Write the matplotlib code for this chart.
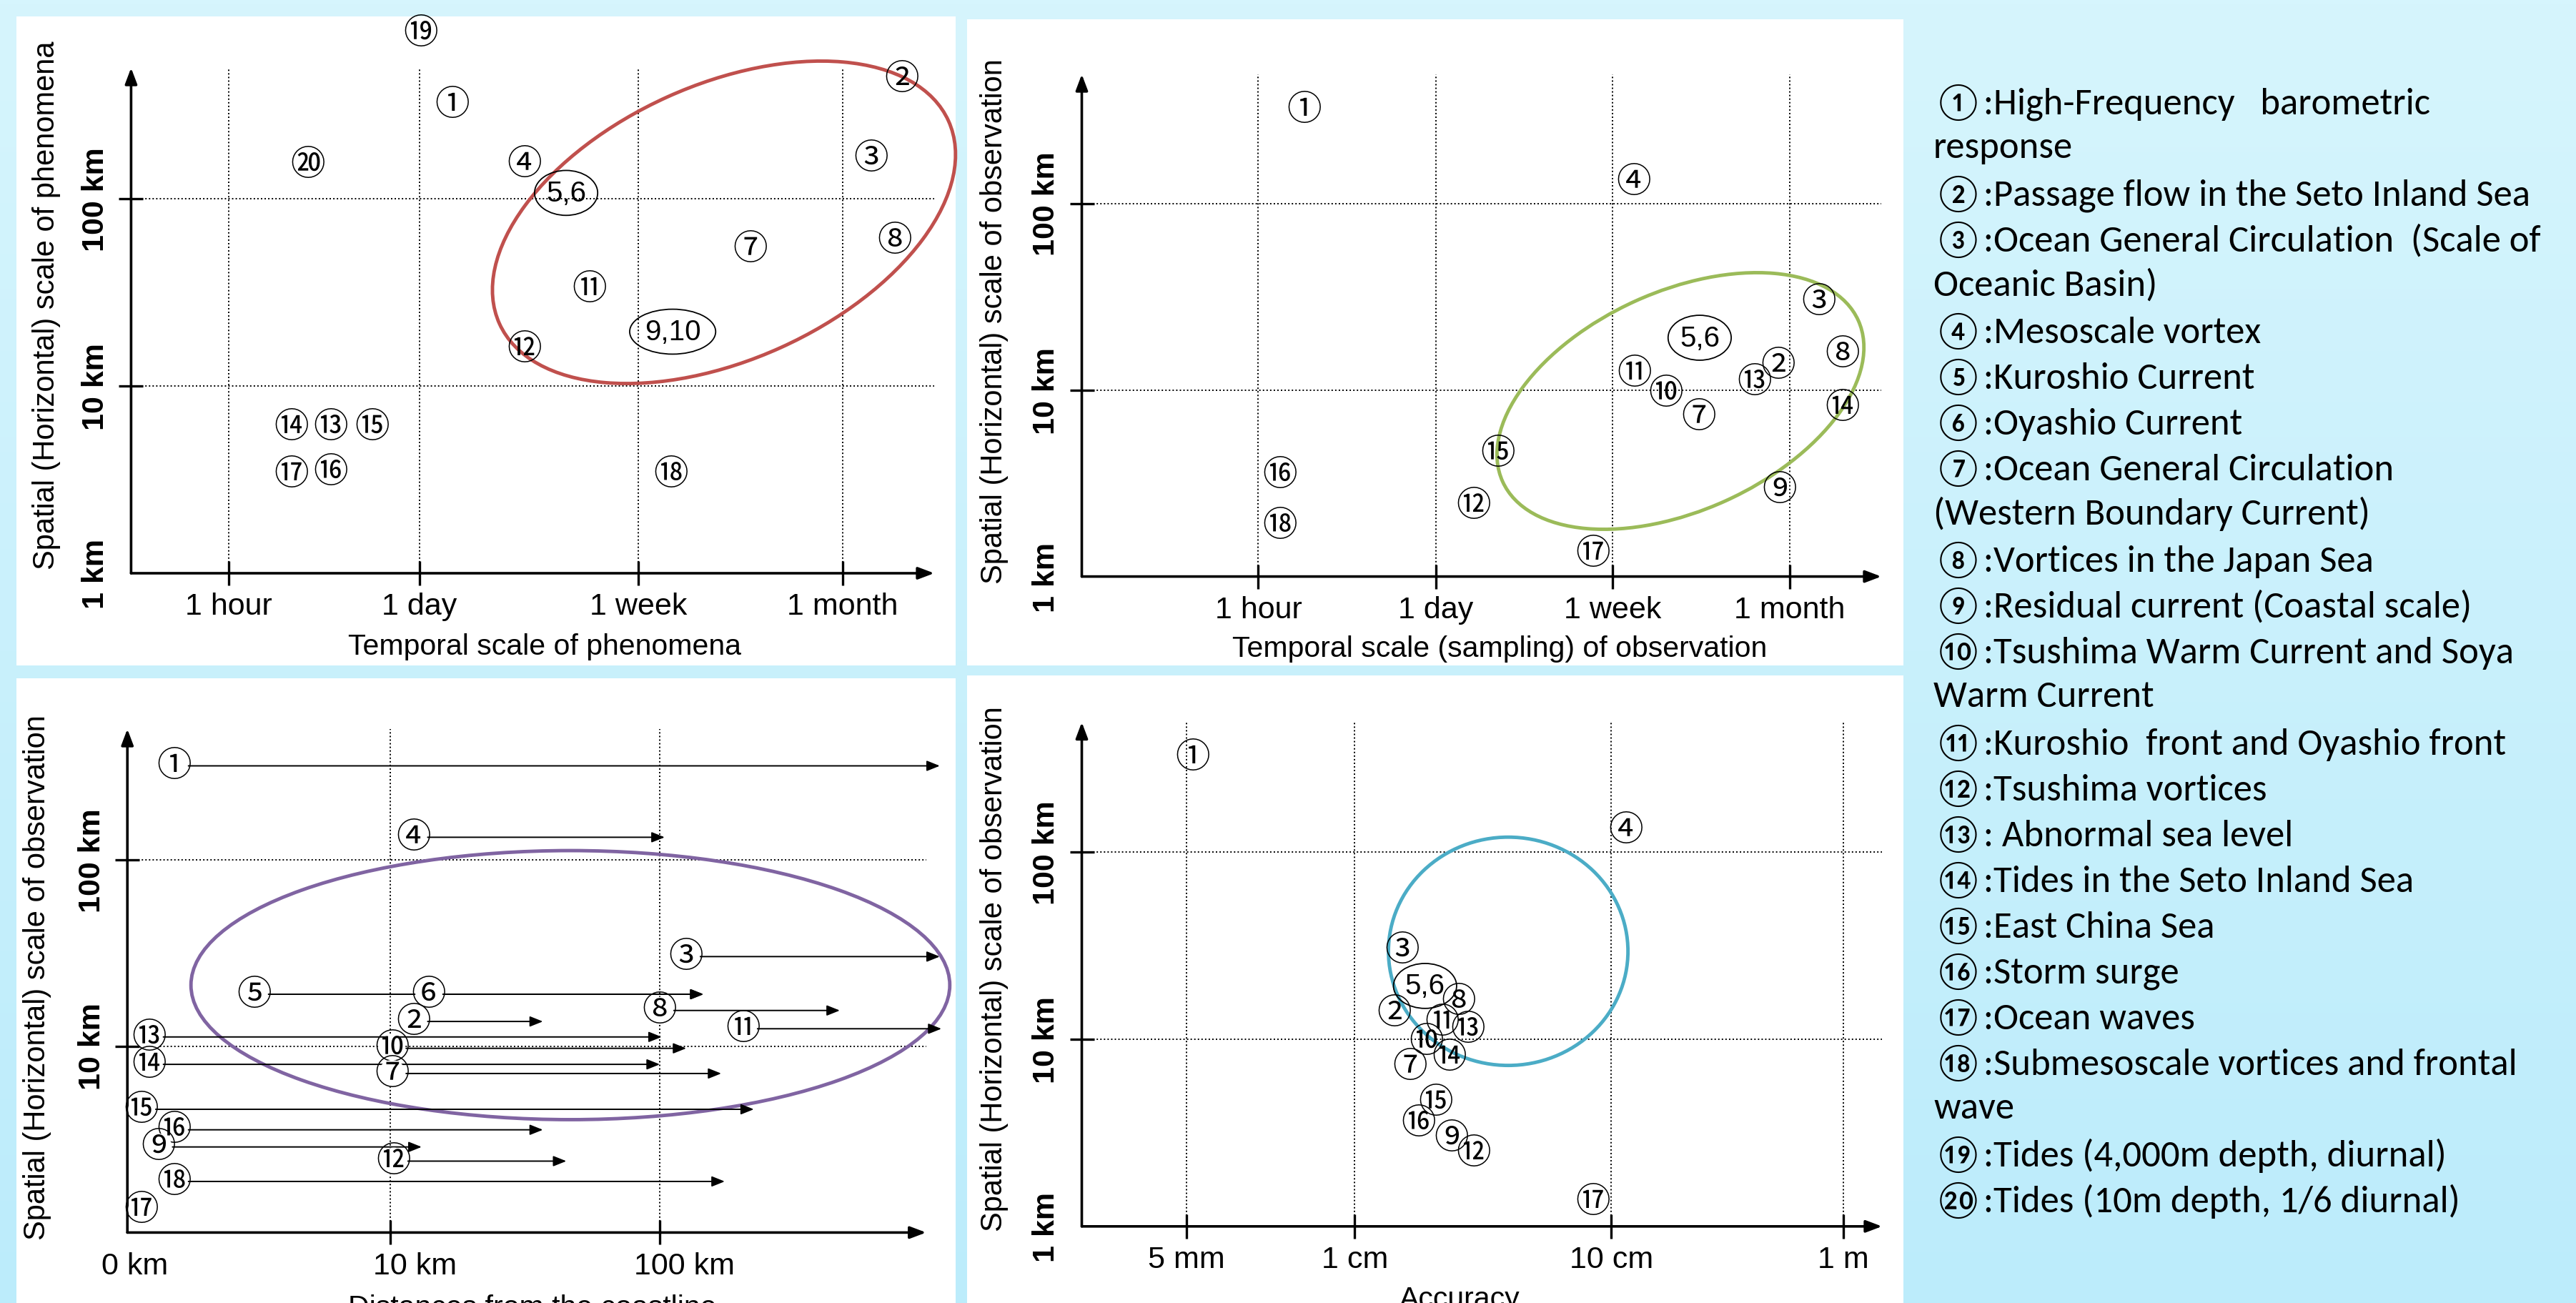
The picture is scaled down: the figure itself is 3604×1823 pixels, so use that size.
import numpy as np
import matplotlib.pyplot as plt
import matplotlib.transforms as mtransforms
from matplotlib import font_manager
from matplotlib.patches import Ellipse, Rectangle

W, H = 3605, 1824
plt.rcParams['font.family'] = ['Liberation Sans', 'DejaVu Sans']

installed = {f.name for f in font_manager.fontManager.ttflist}
CIRCLED = ['Noto Sans CJK JP', 'DejaVu Sans']
LEGEND_FONT = [n for n in ['Carlito', 'Lato'] if n in installed] + ['Noto Sans CJK JP', 'DejaVu Sans']
LEGEND_SIZE = 38 if 'Carlito' in installed else 36

# ---- data (x: position along the axis, y: log10 of spatial scale in km) ----
# top left: phenomena
tl_xticks = [0.52, 1.54, 2.71, 3.80]
tl_xticklabels = ['1 hour', '1 day', '1 week', '1 month']
tl_ids = ['19', '1', '20', '4', '5,6', '2', '3', '8', '7', '11', '9,10', '12',
          '14', '13', '15', '17', '16', '18']
tl_x = [1.548, 1.716, 0.945, 2.102, 2.323, 4.117, 3.952, 4.078, 3.306, 2.449, 2.892, 2.102,
        0.857, 1.067, 1.289, 0.857, 1.067, 2.882]
tl_y = [2.886, 2.504, 2.183, 2.187, 2.031, 2.639, 2.218, 1.777, 1.731, 1.519, 1.290, 1.198,
        0.782, 0.782, 0.782, 0.531, 0.542, 0.531]
tl_ell = (3.166, 1.874, 2.631, 1.469, 24.3)

# top right: observation sampling
tr_xticks = [0.946, 1.898, 2.845, 3.795]
tr_xticklabels = ['1 hour', '1 day', '1 week', '1 month']
tr_ids = ['1', '4', '3', '5,6', '8', '2', '11', '13', '10', '14', '7', '15', '16', '9',
          '12', '18', '17']
tr_x = [1.193, 2.960, 3.952, 3.312, 4.077, 3.734, 2.964, 3.607, 3.132, 4.077, 3.307, 2.232,
        1.063, 3.739, 2.101, 1.063, 2.741]
tr_y = [2.504, 2.117, 1.474, 1.280, 1.194, 1.130, 1.090, 1.044, 0.981, 0.907, 0.855, 0.659,
        0.544, 0.464, 0.379, 0.274, 0.125]
tr_ell = (3.209, 0.941, 2.093, 1.175, 24.4)

# bottom left: distance from the coastline (log10 km), arrow = range
bl_xticks = [1, 2]
bl_xticklabels = ['10 km', '100 km']
bl_ids = ['1', '4', '3', '5', '6', '8', '2', '11', '13', '10', '14', '7', '15', '16', '9',
          '12', '18', '17']
bl_x = [0.198, 1.086, 2.098, 0.495, 1.143, 2.000, 1.086, 2.310, 0.105, 1.006, 0.105, 1.006,
        0.077, 0.198, 0.139, 1.013, 0.198, 0.077]
bl_y = [2.503, 2.120, 1.480, 1.278, 1.278, 1.191, 1.132, 1.093, 1.049, 0.988, 0.902, 0.853,
        0.661, 0.551, 0.459, 0.383, 0.274, 0.124]
bl_end = [3.039, 2.018, 3.039, 2.162, 2.162, 2.668, 1.566, 3.045, 2.007, 2.098, 2.000, 2.228,
          2.349, 1.566, 1.116, 1.653, 2.241, np.nan]
bl_ell = (1.668, 1.327, 2.816, 1.443, 0)

# bottom right: accuracy
br_xticks = [0.558, 1.458, 2.828, 4.065]
br_xticklabels = ['5 mm', '1 cm', '10 cm', '1 m']
br_ids = ['1', '4', '3', '5,6', '8', '2', '11', '13', '10', '14', '7', '15', '16', '9',
          '12', '17']
br_x = [0.594, 2.906, 1.712, 1.833, 2.013, 1.670, 1.924, 2.061, 1.840, 1.964, 1.752, 1.889,
        1.797, 1.973, 2.094, 2.730]
br_y = [2.507, 2.118, 1.476, 1.284, 1.202, 1.138, 1.088, 1.051, 0.986, 0.903, 0.855, 0.663,
        0.550, 0.473, 0.392, 0.131]
br_ell = (2.277, 1.469, 1.279, 1.219, 0)

LEGEND_LINES = [
    '①:High-Frequency   barometric',
    'response',
    '②:Passage flow in the Seto Inland Sea',
    '③:Ocean General Circulation  (Scale of',
    'Oceanic Basin)',
    '④:Mesoscale vortex',
    '⑤:Kuroshio Current',
    '⑥:Oyashio Current',
    '⑦:Ocean General Circulation',
    '(Western Boundary Current)',
    '⑧:Vortices in the Japan Sea',
    '⑨:Residual current (Coastal scale)',
    '⑩:Tsushima Warm Current and Soya',
    'Warm Current',
    '⑪:Kuroshio  front and Oyashio front',
    '⑫:Tsushima vortices',
    '⑬: Abnormal sea level',
    '⑭:Tides in the Seto Inland Sea',
    '⑮:East China Sea',
    '⑯:Storm surge',
    '⑰:Ocean waves',
    '⑱:Submesoscale vortices and frontal',
    'wave',
    '⑲:Tides (4,000m depth, diurnal)',
    '⑳:Tides (10m depth, 1/6 diurnal)',
]

fig = plt.figure(figsize=(W / 100, H / 100), dpi=100)

# background + white panels (pixel coordinates)
bg = fig.add_axes([0, 0, 1, 1])
grad = np.linspace(0, 1, 256)[:, None, None]
top = np.array([214, 245, 253]) / 255
bot = np.array([188, 236, 251]) / 255
bg.imshow(top + (bot - top) * grad, aspect='auto', extent=[0, W, H, 0])
bg.set_xlim(0, W)
bg.set_ylim(H, 0)
bg.axis('off')
for x0, y0, x1, y1 in [(23, 24, 1337, 932), (1353, 28, 2663, 932),
                       (23, 950, 1337, 1824), (1353, 946, 2663, 1824)]:
    bg.add_patch(Rectangle((x0, y0), x1 - x0, y1 - y0, fc='white', ec='none'))

for i, line in enumerate(LEGEND_LINES):
    bg.text(2705, 143 + 64 * i, line, family=LEGEND_FONT, fontsize=LEGEND_SIZE,
            ha='left', va='center')


def panel(box, dx, dy, x0, xt, xtl, yt, ytl, xlabel, xlab_px, ylabel, ylab_px,
          xminor=None, yminor=None):
    l, t, r, b = box
    ax = fig.add_axes([l / W, 1 - b / H, (r - l) / W, (b - t) / H])
    ax.set_xlim(x0, x0 + (r - l) / dx)
    ax.set_ylim(0, (b - t) / dy)
    ax.set_facecolor('none')
    for s in ax.spines.values():
        s.set_visible(False)
    arr = dict(arrowstyle='-|>,head_length=0.45,head_width=0.17', lw=2.6, color='k',
               shrinkA=0, shrinkB=0, mutation_scale=30)
    ax.annotate('', xy=(1, 0), xytext=(0, 0), xycoords='axes fraction', arrowprops=arr)
    ax.annotate('', xy=(0, 1), xytext=(0, 0), xycoords='axes fraction', arrowprops=arr)
    ax.set_xticks(xt, xtl, fontsize=31)
    ax.set_yticks(yt, ytl, fontsize=31, fontweight='bold', rotation=90, va='center')
    ax.tick_params(direction='inout', length=24, width=2.4, color='k')
    ax.tick_params(axis='x', pad=7)
    ax.tick_params(axis='y', pad=9)
    if xminor:
        ax.set_xticks([x0], [xminor], minor=True, fontsize=31)
    if yminor:
        ax.set_yticks([0], [yminor], minor=True, fontsize=31, fontweight='bold',
                      rotation=90, va='center')
    ax.tick_params(which='minor', length=0)
    ax.tick_params(axis='x', which='minor', pad=19)
    ax.tick_params(axis='y', which='minor', pad=21)
    ax.grid(True, ls=(0, (1, 1.6)), lw=1.4, color='k')
    ax.set_xlabel(xlabel, fontsize=29.5, va='center')
    ax.xaxis.set_label_coords((xlab_px[0] - l) / (r - l), (b - xlab_px[1]) / (b - t))
    ax.set_ylabel(ylabel, fontsize=30, va='center', ha='center')
    ax.yaxis.set_label_coords((ylab_px[0] - l) / (r - l), (b - ylab_px[1]) / (b - t))
    return ax


def put_labels(ax, ids, xs, ys, white=False):
    for s, x, y in zip(ids, xs, ys):
        if ',' in s:
            ax.text(x, y, s, fontsize=29, ha='center', va='center',
                    bbox=dict(boxstyle='ellipse,pad=0.08', fc='none', ec='k', lw=1.3))
        else:
            bb = dict(boxstyle='circle,pad=-0.12', fc='white', ec='none') if white else None
            ax.text(x, y, chr(0x245F + int(s)), family=CIRCLED, fontsize=35,
                    ha='center', va='center', bbox=bb)


def put_ellipse(ax, e, color):
    ax.add_patch(Ellipse((e[0], e[1]), e[2], e[3], angle=e[4], fill=False,
                         ec=color, lw=3.5, zorder=2, clip_on=False))


ylab_s = ['10 km', '100 km']

ax1 = panel((183.4, 96, 1307, 803), 262, 262, 0, tl_xticks, tl_xticklabels, [1, 2], ylab_s,
            'Temporal scale of phenomena', (762, 905),
            'Spatial (Horizontal) scale of phenomena', (64.6, 427), yminor='1 km')
put_ellipse(ax1, tl_ell, '#c0504d')
put_labels(ax1, tl_ids, tl_x, tl_y)

ax2 = panel((1513.5, 105, 2632, 807.6), 261, 261, 0, tr_xticks, tr_xticklabels, [1, 2], ylab_s,
            'Temporal scale (sampling) of observation', (2098, 908),
            'Spatial (Horizontal) scale of observation', (1391, 450), yminor='1 km')
put_ellipse(ax2, tr_ell, '#9bbb59')
put_labels(ax2, tr_ids, tr_x, tr_y)

ax3 = panel((178.2, 1021, 1295.7, 1725.4), 377, 260.85, 0.024, bl_xticks, bl_xticklabels,
            [1, 2], ylab_s, 'Distances from the coastline', (745, 1830),
            'Spatial (Horizontal) scale of observation', (51.7, 1368), xminor='0 km')
for lab in ax3.get_xticklabels():
    lab.set_transform(lab.get_transform() +
                      mtransforms.ScaledTranslation(0.34, 0, fig.dpi_scale_trans))
for lab in ax3.get_xticklabels(minor=True):
    lab.set_transform(lab.get_transform() +
                      mtransforms.ScaledTranslation(0.10, 0, fig.dpi_scale_trans))
for x, y, e in zip(bl_x, bl_y, bl_end):
    if np.isnan(e):
        continue
    ax3.annotate('', xy=(e, y), xytext=(x, y), annotation_clip=False,
                 arrowprops=dict(arrowstyle='-|>,head_length=0.55,head_width=0.22', lw=1.4,
                                 color='k', shrinkA=14, shrinkB=0, mutation_scale=20))
put_ellipse(ax3, bl_ell, '#8064a2')
put_labels(ax3, bl_ids, bl_x, bl_y, white=True)

ax4 = panel((1513.5, 1011.5, 2633, 1716.8), 262, 262, 0, br_xticks, br_xticklabels, [1, 2],
            ylab_s, 'Accuracy', (2042.5, 1818),
            'Spatial (Horizontal) scale of observation', (1391, 1356), yminor='1 km')
put_ellipse(ax4, br_ell, '#4bacc6')
put_labels(ax4, br_ids, br_x, br_y)

fig.savefig('out.png', dpi=100)
